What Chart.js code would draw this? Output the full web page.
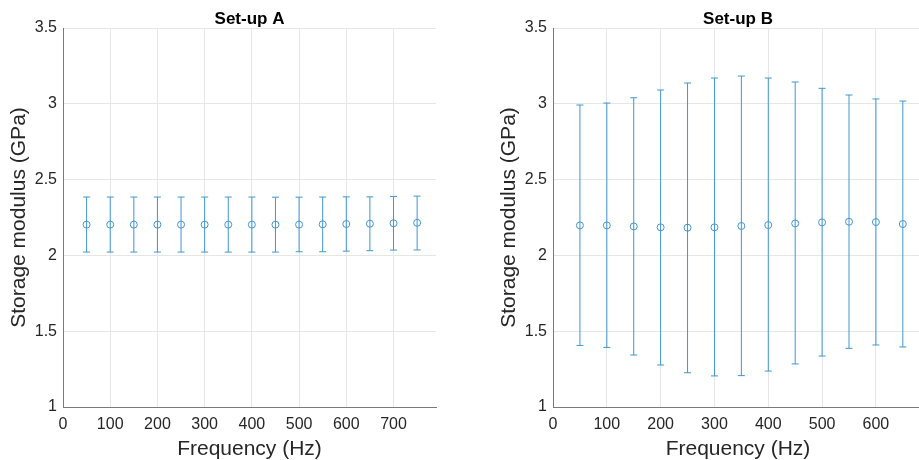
<!DOCTYPE html>
<html>
<head>
<meta charset="utf-8">
<script src="https://cdn.jsdelivr.net/npm/chart.js@4"></script>
<style>
    html, body { margin: 0; padding: 0; background: #fff; overflow: hidden; }
    #wrap { position: relative; width: 919px; height: 460px; overflow: hidden; }
    #ChartA { position: absolute; left: 0; top: 0; }
    #ChartB { position: absolute; left: 460px; top: 0; }
</style>
</head>
<body>
<div id="wrap">
    <canvas id="ChartA" width="460" height="460"></canvas>
    <canvas id="ChartB" width="470" height="460"></canvas>
</div>
<script>
// Set-up A
let freqA = [50, 100, 150, 200, 250, 300, 350, 400, 450, 500, 550, 600, 650, 700, 750];
let meanA = [2.203, 2.203, 2.203, 2.203, 2.203, 2.203, 2.203, 2.203, 2.203, 2.203, 2.205, 2.207, 2.209, 2.212, 2.215];
let lowA = [2.022, 2.022, 2.022, 2.022, 2.022, 2.022, 2.022, 2.022, 2.022, 2.024, 2.024, 2.028, 2.031, 2.035, 2.036];
let highA = [2.385, 2.385, 2.385, 2.385, 2.385, 2.385, 2.385, 2.385, 2.384, 2.384, 2.385, 2.386, 2.386, 2.389, 2.391];
let xTicksA = [0, 100, 200, 300, 400, 500, 600, 700];

// Set-up B
let freqB = [50, 100, 150, 200, 250, 300, 350, 400, 450, 500, 550, 600, 650];
let meanB = [2.198, 2.198, 2.191, 2.185, 2.183, 2.185, 2.194, 2.200, 2.211, 2.218, 2.222, 2.220, 2.207];
let lowB = [1.406, 1.393, 1.343, 1.277, 1.226, 1.205, 1.207, 1.237, 1.284, 1.336, 1.387, 1.409, 1.396];
let highB = [2.992, 3.005, 3.040, 3.091, 3.137, 3.170, 3.183, 3.170, 3.144, 3.102, 3.058, 3.032, 3.018];
let xTicksB = [0, 100, 200, 300, 400, 500, 600];

let yTicks = [1, 1.5, 2, 2.5, 3, 3.5];

const blue = '#4196d2';
const textCol = '#262626';
const gridCol = '#e6e6e6';
const font = "'Liberation Sans', Arial, Helvetica, sans-serif";

// draws the subplot title over the middle of the plot area
const titlePlugin = {
    id: 'subTitle',
    afterDraw(chart, args, opts) {
        let ctx = chart.ctx;
        let area = chart.chartArea;
        ctx.save();
        ctx.font = 'bold 17px ' + font;
        ctx.fillStyle = '#000';
        ctx.textAlign = 'center';
        ctx.textBaseline = 'alphabetic';
        ctx.fillText(opts.text, (area.left + area.right) / 2, 24);
        ctx.restore();
    }
};

function whiskers(x, lo, hi) {
    let pts = [];
    for (let i = 0; i < x.length; i++) {
        pts.push({ x: x[i], y: lo[i] });
        pts.push({ x: x[i], y: hi[i] });
        pts.push({ x: x[i], y: null });
    }
    return pts;
}

function caps(x, lo, hi) {
    let pts = [];
    for (let i = 0; i < x.length; i++) {
        pts.push({ x: x[i], y: lo[i] });
        pts.push({ x: x[i], y: hi[i] });
    }
    return pts;
}

function makeChart(id, title, x, mean, lo, hi, xTicks, xMax, yWidth, padRight, yTitlePad) {
    let ctx = document.getElementById(id).getContext('2d');
    return new Chart(ctx, {
        type: 'line',
        data: {
            datasets: [{
                data: whiskers(x, lo, hi),
                borderColor: blue,
                borderWidth: 1,
                pointRadius: 0,
                spanGaps: false,
                fill: false
            }, {
                data: caps(x, lo, hi),
                showLine: false,
                pointStyle: 'line',
                pointRadius: 3.5,
                pointBorderWidth: 1,
                pointBorderColor: blue,
                borderColor: blue
            }, {
                data: x.map((v, i) => ({ x: v, y: mean[i] })),
                showLine: false,
                pointStyle: 'circle',
                pointRadius: 3.5,
                pointBorderWidth: 1,
                pointBorderColor: blue,
                pointBackgroundColor: 'rgba(0,0,0,0)'
            }]
        },
        options: {
            responsive: false,
            animation: false,
            devicePixelRatio: 1,
            layout: { padding: { top: 28, right: padRight, left: 0, bottom: 0 } },
            plugins: {
                legend: { display: false },
                tooltip: { enabled: false },
                subTitle: { text: title }
            },
            scales: {
                x: {
                    type: 'linear',
                    min: 0,
                    max: xMax,
                    afterFit: (s) => { s.height = 53; },
                    afterBuildTicks: (s) => { s.ticks = xTicks.map(v => ({ value: v })); },
                    grid: { color: gridCol, drawTicks: false },
                    border: { color: '#7a7a7a', width: 1 },
                    ticks: {
                        padding: 8,
                        color: textCol,
                        font: { family: font, size: 16 },
                        callback: (v) => String(v)
                    },
                    title: {
                        display: true,
                        text: 'Frequency (Hz)',
                        color: textCol,
                        font: { family: font, size: 21, lineHeight: 1 },
                        padding: { top: 0, bottom: 0 }
                    }
                },
                y: {
                    min: 1,
                    max: 3.5,
                    afterFit: (s) => { s.width = yWidth; },
                    afterBuildTicks: (s) => { s.ticks = yTicks.map(v => ({ value: v })); },
                    grid: { color: gridCol, drawTicks: false },
                    border: { color: '#7a7a7a', width: 1 },
                    ticks: {
                        padding: 6,
                        color: textCol,
                        font: { family: font, size: 16 },
                        callback: (v) => String(v)
                    },
                    title: {
                        display: true,
                        text: 'Storage modulus (GPa)',
                        color: textCol,
                        font: { family: font, size: 21, lineHeight: 1 },
                        padding: { top: yTitlePad, bottom: 0 }
                    }
                }
            }
        },
        plugins: [titlePlugin]
    });
}

window.onload = () => {
    makeChart('ChartA', 'Set-up A', freqA, meanA, lowA, highA, xTicksA, 790, 63, 24, 9);
    makeChart('ChartB', 'Set-up B', freqB, meanB, lowB, highB, xTicksB, 687.5, 93, 7, 39);
}
</script>
</body>
</html>
